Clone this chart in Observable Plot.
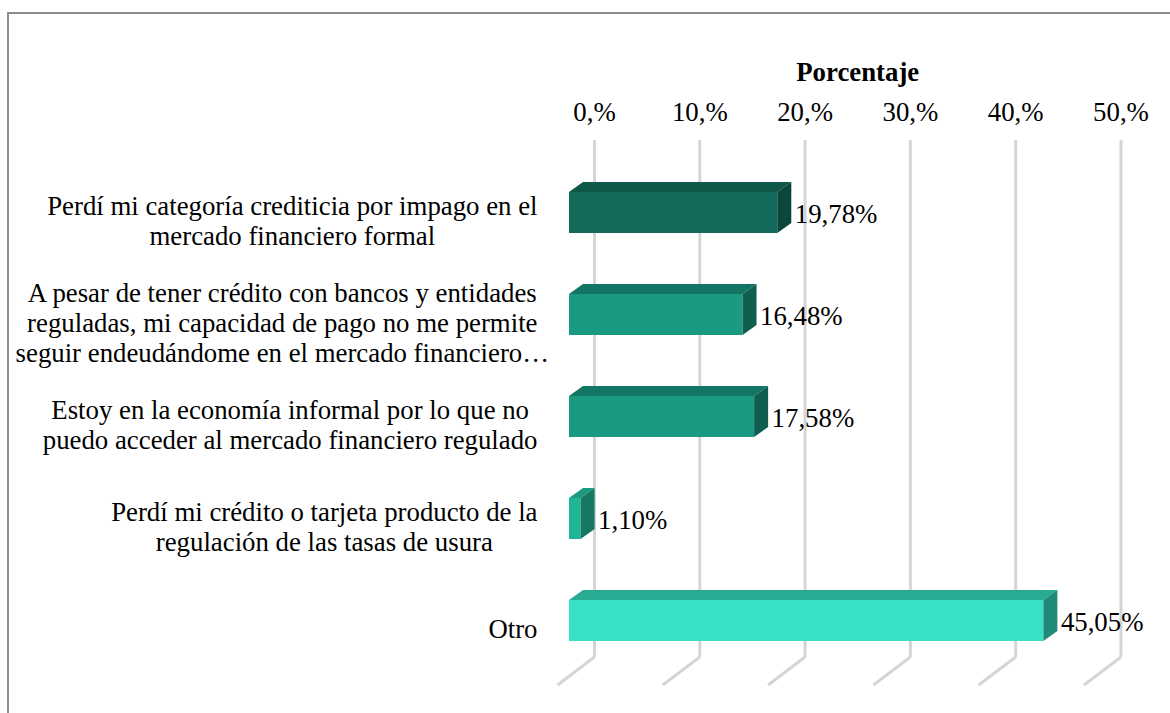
<!DOCTYPE html>
<html>
<head>
<meta charset="utf-8">
<script src="https://cdn.jsdelivr.net/npm/d3@7"></script>
<script src="https://cdn.jsdelivr.net/npm/@observablehq/plot@0.6"></script>
<style>
  html, body { margin: 0; padding: 0; background: #fff; }
  #chart { position: relative; width: 1170px; height: 713px; overflow: hidden; }
  #border { position: absolute; left: 7px; top: 12px; width: 1170px; height: 720px;
            border-left: 2px solid #8c8c8c; border-top: 2px solid #8c8c8c; pointer-events: none; }
</style>
</head>
<body>
<div id="chart"><div id="border"></div></div>
<script>
// ---- data ----
const categories = [
  "Perdí mi categoría crediticia por impago en el\nmercado financiero formal",
  "A pesar de tener crédito con bancos y entidades\nreguladas, mi capacidad de pago no me permite\nseguir endeudándome en el mercado financiero…",
  "Estoy en la economía informal por lo que no\npuedo acceder al mercado financiero regulado",
  "Perdí mi crédito o tarjeta producto de la\nregulación de las tasas de usura",
  "Otro"
];
const values = [19.78, 16.48, 17.58, 1.10, 45.05];
const valueLabels = ["19,78%", "16,48%", "17,58%", "1,10%", "45,05%"];
const tickValues = [0, 10, 20, 30, 40, 50];
const tickLabels = ["0,%", "10,%", "20,%", "30,%", "40,%", "50,%"];
const axisTitle = "Porcentaje";

// ---- styles ----
const frontColors = ["#126b5b", "#199a81", "#199a81", "#20b595", "#38e0c5"];
const topColors   = ["#0e5849", "#137563", "#137563", "#1a9a80", "#29aa92"];
const sideColors  = ["#0b463b", "#0f5e50", "#0f5e50", "#167762", "#1f8a78"];
const FONT = "'Liberation Serif', 'Times New Roman', serif";
const FS = 26.8;

// ---- layout ----
const X_RANGE = [569, 1095.5];
const Y_RANGE = [159.6, 673.6];
const BACK_DX = 25;          // back wall offset of the grid
const DEPTH = [14, -10];     // bar depth (px)
const FLOOR = [-37, 28];     // floor line offset (px)
const LABEL_RIGHT = 537;

const rows = categories.map((c, i) => ({cat: c, value: values[i], label: valueLabels[i], i}));

// centre of each category label block, right-aligned at LABEL_RIGHT
const xs = Plot.scale({x: {domain: [0, 50], range: X_RANGE}});
const ctx = document.createElement("canvas").getContext("2d");
ctx.font = `${FS}px ${FONT}`;
const labelRows = categories.map((c, i) => {
  const w = d3.max(c.split("\n"), l => ctx.measureText(l.replace(/…$/, "")).width);
  return {cat: c, text: c, cx: xs.invert(LABEL_RIGHT - w / 2)};
});

function extrude(index, scales, vals, dims, context, next) {
  const g = next(index, scales, vals, dims, context);
  const sel = d3.select(g);
  const rects = Array.from(g.querySelectorAll("rect"));
  const [dx, dy] = DEPTH;
  rects.forEach((r, k) => {
    const i = index[k];
    const x = +r.getAttribute("x"), y = +r.getAttribute("y");
    const w = +r.getAttribute("width"), h = +r.getAttribute("height");
    sel.append("polygon")
      .attr("points", [[x, y], [x + w, y], [x + w + dx, y + dy], [x + dx, y + dy]].join(" "))
      .attr("fill", topColors[rows[i].i]);
    sel.append("polygon")
      .attr("points", [[x + w, y], [x + w + dx, y + dy], [x + w + dx, y + h + dy], [x + w, y + h]].join(" "))
      .attr("fill", sideColors[rows[i].i]);
  });
  return g;
}

function floorLines(index, scales, vals, dims, context, next) {
  const g = next(index, scales, vals, dims, context);
  const sel = d3.select(g);
  Array.from(g.querySelectorAll("line")).forEach(l => {
    const x = +l.getAttribute("x1"), y = Math.max(+l.getAttribute("y1"), +l.getAttribute("y2"));
    sel.append("line").attr("x1", x).attr("y1", y)
      .attr("x2", x + FLOOR[0]).attr("y2", y + FLOOR[1]);
  });
  return g;
}

const chart = Plot.plot({
  width: 1170,
  height: 713,
  marginTop: 140,
  marginBottom: 56,
  marginLeft: 0,
  marginRight: 0,
  x: {domain: [0, 50], range: X_RANGE, axis: null},
  y: {type: "band", domain: categories, range: Y_RANGE, paddingInner: 0.6, paddingOuter: 0.3, axis: null},
  color: {type: "identity"},
  style: {fontFamily: FONT, fontSize: `${FS}px`, color: "#000", background: "transparent", overflow: "visible"},
  marks: [
    Plot.ruleX(tickValues, {x: d => d, dx: BACK_DX, stroke: "#d5d5d5", strokeWidth: 3, render: floorLines}),
    Plot.text(tickValues, {x: d => d, text: (d, i) => tickLabels[i], frameAnchor: "top", dx: BACK_DX, dy: -28.5,
                           lineAnchor: "middle", textAnchor: "middle", fill: "#000"}),
    Plot.text([axisTitle], {x: () => 25, text: d => d, frameAnchor: "top", dx: BACK_DX, dy: -68.5,
                            lineAnchor: "middle", textAnchor: "middle", fontWeight: "bold", fill: "#000"}),
    Plot.barX(rows, {x: "value", y: "cat", fill: d => frontColors[d.i], render: extrude}),
    Plot.text(rows, {x: "value", y: "cat", text: "label", dx: DEPTH[0] + 3, dy: 1, textAnchor: "start", fill: "#000"}),
    Plot.text(labelRows, {x: "cx", y: "cat", text: "text", dy: 7, textAnchor: "middle", lineAnchor: "middle",
                          lineHeight: 1.12, fill: "#000"})
  ]
});
document.getElementById("chart").appendChild(chart);
</script>
</body>
</html>
